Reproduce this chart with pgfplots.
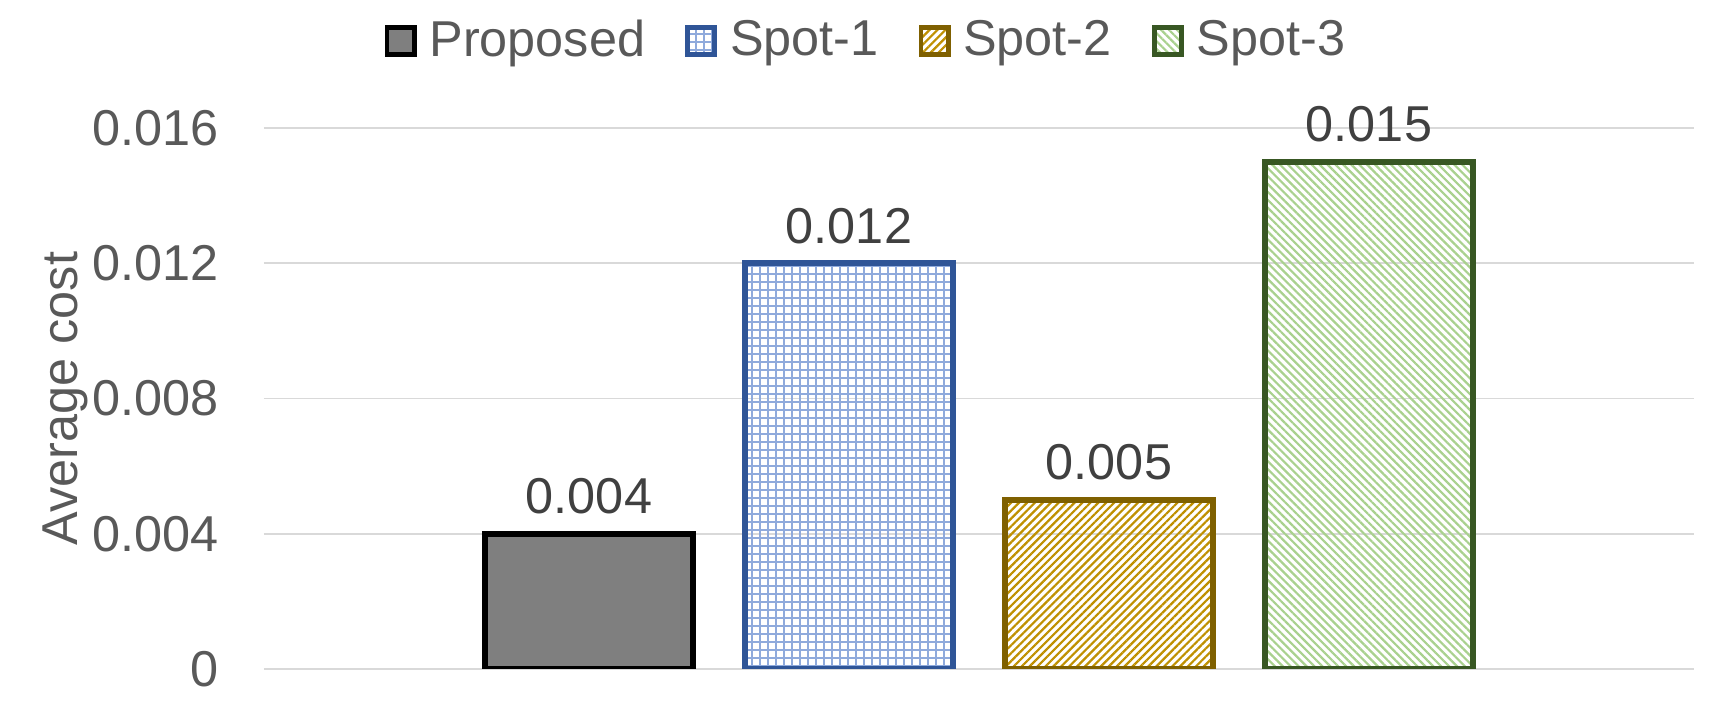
\documentclass[border=0pt]{standalone}
\usepackage{fontspec}
\setmainfont{Liberation Sans}
\usepackage{pgfplots}
\pgfplotsset{compat=1.18}
\usetikzlibrary{patterns.meta}

\definecolor{txt}{HTML}{595959}
\definecolor{lbl}{HTML}{404040}
\definecolor{gridc}{HTML}{D9D9D9}
\definecolor{propfill}{HTML}{7F7F7F}
\definecolor{s1line}{HTML}{2F5597}
\definecolor{s1pat}{HTML}{8FAADC}
\definecolor{s2line}{HTML}{7F6000}
\definecolor{s2pat}{HTML}{BF9000}
\definecolor{s3line}{HTML}{385723}
\definecolor{s3pat}{HTML}{A9D18E}

\begin{document}
\fontsize{12.6}{15}\selectfont
\begin{tikzpicture}
\useasboundingbox (-66pt,-11.25pt) rectangle (365.25pt,167.25pt);
\begin{axis}[
  at={(0,0)}, anchor=south west,
  scale only axis,
  width=357.5pt, height=135.25pt,
  xmin=-0.25, xmax=5.25,
  ymin=0, ymax=0.016,
  ybar, bar width=0.8,
  xtick=\empty,
  ytick={0,0.004,0.008,0.012,0.016},
  yticklabels={0,0.004,0.008,0.012,0.016},
  scaled y ticks=false,
  major tick length=0pt,
  ymajorgrids,
  grid style={color=gridc, line width=0.45pt},
  axis line style={draw=none},
  yticklabel style={text=txt, xshift=-7pt},
  ylabel={Average cost},
  every axis y label/.style={at={(axis description cs:-0.139,0.5)}, rotate=90, anchor=center, text=txt},
  /pgf/number format/.cd, fixed, precision=3, assume math mode=true, /pgfplots/.cd,
  nodes near coords,
  every node near coord/.append style={text=lbl},
  legend image code/.code={\draw[#1, line width=1.2pt] (0pt,-3.2pt) rectangle (6.8pt,3.6pt);},
  legend style={at={(axis description cs:0.423,1.159)}, anchor=center,
    draw=none, fill=none, legend columns=-1, text=txt,
    /tikz/every odd column/.append style={column sep=1.2pt},
    /tikz/every even column/.append style={column sep=8pt}},
  legend cell align=left,
]
\addplot[bar shift=0pt, draw=black, line width=1.4pt, fill=propfill] coordinates {(1,0.004)};
\addplot[bar shift=0pt, draw=s1line, line width=1.4pt,
  pattern={Hatch[angle=0, distance=2pt, line width=0.35pt]}, pattern color=s1pat] coordinates {(2,0.012)};
\addplot[bar shift=0pt, draw=s2line, line width=1.4pt,
  pattern={Lines[angle=45, distance=1.4pt, line width=0.55pt]}, pattern color=s2pat] coordinates {(3,0.005)};
\addplot[bar shift=0pt, draw=s3line, line width=1.4pt,
  pattern={Lines[angle=-45, distance=1.4pt, line width=0.55pt]}, pattern color=s3pat] coordinates {(4,0.015)};
\legend{Proposed,Spot-1,Spot-2,Spot-3}
\end{axis}
\end{tikzpicture}
\end{document}
